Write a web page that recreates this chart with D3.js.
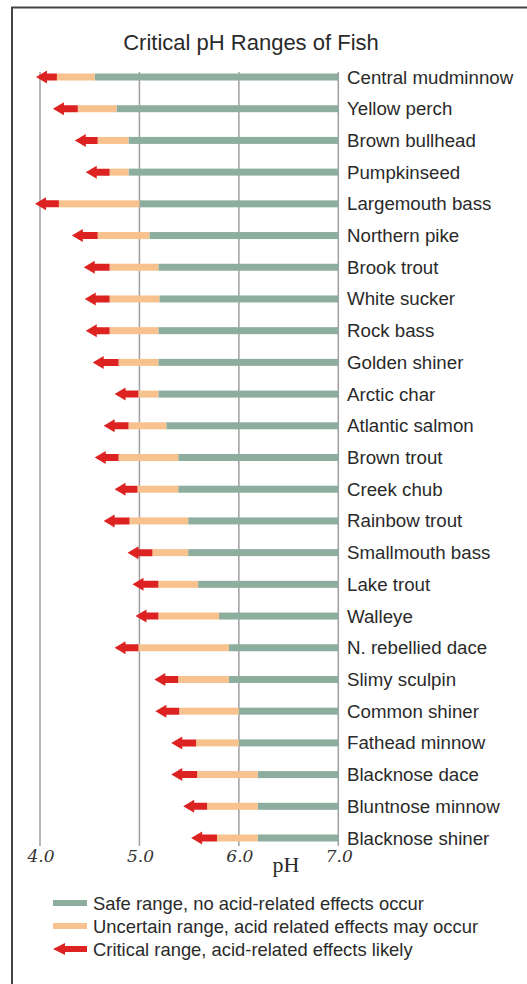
<!DOCTYPE html>
<html lang="en">
	<head>
		<meta charset="utf-8">
		<title>Critical pH Ranges of Fish</title>
		<script type="text/javascript" src="https://cdn.jsdelivr.net/npm/d3@7"></script>
		<style type="text/css">
			body { margin: 0; background: #fff; }
		</style>
	</head>
	<body>
		<script type="text/javascript">

			//Width and height
			var w = 527;
			var h = 984;

			var fish = [ "Central mudminnow", "Yellow perch", "Brown bullhead", "Pumpkinseed",
						 "Largemouth bass", "Northern pike", "Brook trout", "White sucker",
						 "Rock bass", "Golden shiner", "Arctic char", "Atlantic salmon",
						 "Brown trout", "Creek chub", "Rainbow trout", "Smallmouth bass",
						 "Lake trout", "Walleye", "N. rebellied dace", "Slimy sculpin",
						 "Common shiner", "Fathead minnow", "Blacknose dace", "Bluntnose minnow",
						 "Blacknose shiner" ];

			//pH where the critical arrow points to
			var criticalLow = [ 3.96, 4.13, 4.35, 4.46, 3.95, 4.32, 4.44, 4.45, 4.46, 4.53,
								4.75, 4.64, 4.55, 4.75, 4.64, 4.88, 4.93, 4.96, 4.75, 5.15,
								5.16, 5.32, 5.32, 5.44, 5.52 ];
			//pH where the uncertain range starts
			var uncertainLow = [ 4.17, 4.38, 4.58, 4.70, 4.19, 4.58, 4.70, 4.70, 4.70, 4.79,
								 4.99, 4.89, 4.79, 4.98, 4.90, 5.13, 5.19, 5.19, 4.99, 5.39,
								 5.40, 5.57, 5.58, 5.68, 5.78 ];
			//pH where the safe range starts
			var safeLow = [ 4.55, 4.77, 4.89, 4.89, 5.0, 5.10, 5.19, 5.20, 5.19, 5.19,
							5.19, 5.27, 5.39, 5.39, 5.49, 5.49, 5.59, 5.80, 5.90, 5.90,
							6.0, 6.0, 6.19, 6.19, 6.19 ];
			var safeHigh = 7.0;

			var ticks = [ 4.0, 5.0, 6.0, 7.0 ];

			var legendLabels = [ "Safe range, no acid-related effects occur",
								 "Uncertain range, acid related effects may occur",
								 "Critical range, acid-related effects likely" ];

			var green = "#8dae9e", orange = "#f8c28e", red = "#dd2222";

			var xScale = d3.scaleLinear()
							.domain([4, 7])
							.range([40, 338.3]);

			var yScale = d3.scalePoint()
							.domain(fish)
							.range([77, 838]);

			var barH = 7;

			//Create SVG element
			var svg = d3.select("body")
						.append("svg")
						.attr("width", w)
						.attr("height", h);

			//Frame
			svg.append("path")
			   .attr("d", "M12,984 V7.5 H527")
			   .attr("fill", "none")
			   .attr("stroke", "#444")
			   .attr("stroke-width", 2);

			//Title
			svg.append("text")
			   .text("Critical pH Ranges of Fish")
			   .attr("x", 251)
			   .attr("y", 50)
			   .attr("text-anchor", "middle")
			   .attr("font-family", "Arial, 'Liberation Sans', sans-serif")
			   .attr("font-size", "22px")
			   .attr("fill", "#2a2a2a");

			//Grid lines
			svg.selectAll("line.grid")
			   .data(ticks)
			   .enter()
			   .append("line")
			   .attr("class", "grid")
			   .attr("x1", function(d) { return xScale(d); })
			   .attr("x2", function(d) { return xScale(d); })
			   .attr("y1", 72)
			   .attr("y2", 846)
			   .attr("stroke", "#a09ea0")
			   .attr("stroke-width", 1.5);

			var rows = svg.selectAll("g.row")
						  .data(fish)
						  .enter()
						  .append("g")
						  .attr("class", "row");

			//Safe bars
			rows.append("rect")
				.attr("x", function(d, i) { return xScale(safeLow[i]); })
				.attr("y", function(d) { return yScale(d) - barH / 2; })
				.attr("width", function(d, i) { return xScale(safeHigh) - xScale(safeLow[i]); })
				.attr("height", barH)
				.attr("fill", green);

			//Uncertain bars
			rows.append("rect")
				.attr("x", function(d, i) { return xScale(uncertainLow[i]); })
				.attr("y", function(d) { return yScale(d) - barH / 2; })
				.attr("width", function(d, i) { return xScale(safeLow[i]) - xScale(uncertainLow[i]); })
				.attr("height", barH)
				.attr("fill", orange);

			//Critical arrows
			function arrow(tip, end, y) {
				var head = 11, hh = 6.5, sh = barH / 2;
				return "M" + tip + "," + y +
					   " L" + (tip + head) + "," + (y - hh) +
					   " L" + (tip + head) + "," + (y - sh) +
					   " L" + end + "," + (y - sh) +
					   " L" + end + "," + (y + sh) +
					   " L" + (tip + head) + "," + (y + sh) +
					   " L" + (tip + head) + "," + (y + hh) + " Z";
			}

			rows.append("path")
				.attr("d", function(d, i) {
					return arrow(xScale(criticalLow[i]), xScale(uncertainLow[i]), yScale(d));
				})
				.attr("fill", red);

			//Fish labels
			rows.append("text")
				.text(function(d) { return d; })
				.attr("x", 347)
				.attr("y", function(d) { return yScale(d) + 6.5; })
				.attr("font-family", "Arial, 'Liberation Sans', sans-serif")
				.attr("font-size", "18.7px")
				.attr("fill", "#2a2a2a");

			//Tick labels
			svg.selectAll("text.tick")
			   .data(ticks)
			   .enter()
			   .append("text")
			   .attr("class", "tick")
			   .text(function(d) { return d.toFixed(1); })
			   .attr("x", function(d) { return xScale(d) + 1; })
			   .attr("y", 862)
			   .attr("text-anchor", "middle")
			   .attr("font-family", "Georgia, 'DejaVu Serif', serif")
			   .attr("font-style", "italic")
			   .attr("font-size", "17px")
			   .attr("fill", "#333");

			svg.append("text")
			   .text("pH")
			   .attr("x", 286)
			   .attr("y", 872)
			   .attr("text-anchor", "middle")
			   .attr("font-family", "Georgia, 'Liberation Serif', serif")
			   .attr("font-size", "22px")
			   .attr("fill", "#2a2a2a");

			//Legend
			var legend = svg.selectAll("g.legend")
							.data(legendLabels)
							.enter()
							.append("g")
							.attr("class", "legend")
							.attr("transform", function(d, i) { return "translate(0," + (903 + i * 23) + ")"; });

			legend.each(function(d, i) {
				var g = d3.select(this);
				if (i < 2) {
					g.append("rect")
					 .attr("x", 53)
					 .attr("y", -3)
					 .attr("width", 34)
					 .attr("height", 6)
					 .attr("fill", i === 0 ? green : orange);
				} else {
					g.append("path")
					 .attr("d", "M53,0 L65,-6 L65,-3 L87,-3 L87,3 L65,3 L65,6 Z")
					 .attr("fill", red);
				}
			});

			legend.append("text")
				  .text(function(d) { return d; })
				  .attr("x", 93)
				  .attr("y", 6.5)
				  .attr("font-family", "Arial, 'Liberation Sans', sans-serif")
				  .attr("font-size", "18.4px")
				  .attr("fill", "#2a2a2a");

		</script>
	</body>
</html>
